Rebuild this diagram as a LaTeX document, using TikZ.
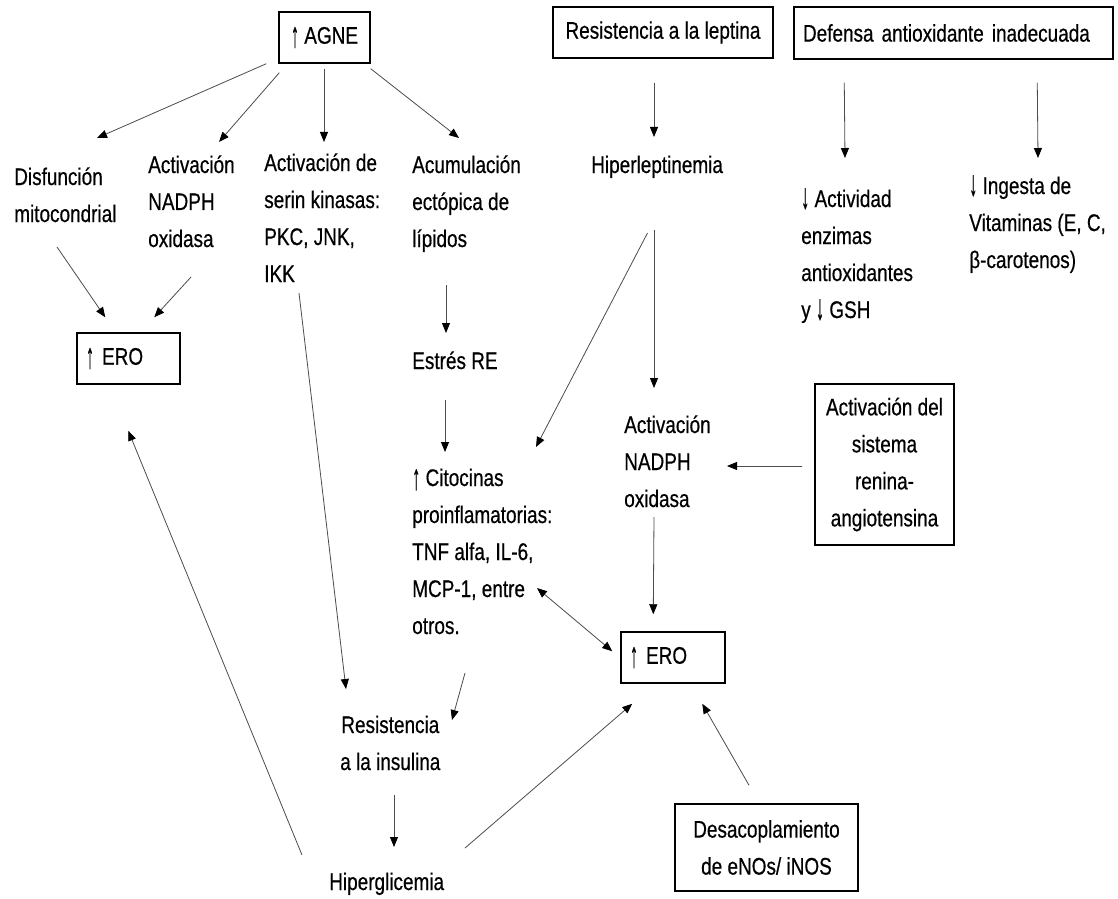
\documentclass[tikz,border=0pt]{standalone}
\usepackage{fontspec}
\usepackage{graphicx}
\setmainfont[FakeStretch=0.79,FakeBold=0.5]{Liberation Sans}
\usetikzlibrary{arrows.meta,calc}
\newcommand{\arrup}{\raisebox{-2.5pt}{\scalebox{0.85}[1.5]{↑}}}
\newcommand{\arrdn}{\raisebox{-1pt}{\scalebox{0.85}[1.5]{↓}}}
\begin{document}
\begin{tikzpicture}[x=0.75pt,y=-0.75pt,
  every node/.style={font=\fontsize{18}{27.75}\selectfont},
  txt/.style={inner sep=0pt, anchor=base west, align=left},
  box/.style={draw=black, line width=1.1pt, inner sep=0pt, align=center},
  lbox/.style={box, align=left, inner xsep=6.75pt},
  tip/.tip={Triangle[length=7.5pt,width=6pt,color=black]},
  arr/.style={draw=black!70, line width=0.6pt, -tip},
  darr/.style={draw=black!70, line width=0.6pt, tip-tip}]
\useasboundingbox (0,0) rectangle (1118,899);
\fill[white] (0,0) rectangle (1118,899);
% boxes
\node[box, minimum width=68.25pt, minimum height=38.25pt] (agne) at (324.5,37.5) {\arrup{} AGNE};
\node[box, minimum width=165pt, minimum height=38.25pt] (lept) at (663,32.5) {Resistencia a la leptina};
\node[lbox, text width=225.75pt, minimum height=39pt] (def) at (953.5,33) {Defensa antioxidante inadecuada};
\node[lbox, text width=63.75pt, minimum height=38.25pt] (ero1) at (128.5,358.5) {\arrup{} ERO};
\node[lbox, text width=64.5pt, minimum height=38.25pt] (ero2) at (673,657.5) {\arrup{} ERO};
\node[box, minimum width=104.25pt, minimum height=120.75pt] (ren) at (884.5,464.5) {Activación del\\sistema\\renina-\\angiotensina};
\node[box, minimum width=137.25pt, minimum height=65.25pt] (desac) at (766.5,847.5) {Desacoplamiento\\de eNOs/ iNOS};
% text nodes (anchored at the baseline of their last line)
\node[txt] (disf) at (14,222) {Disfunción\\mitocondrial};
\node[txt] (nadph1) at (148,247) {Activación\\NADPH\\oxidasa};
\node[txt] (serin) at (264,282) {Activación de\\serin kinasas:\\PKC, JNK,\\IKK};
\node[txt] (acum) at (412,247) {Acumulación\\ectópica de\\lípidos};
\node[txt] (hlep) at (591,173) {Hiperleptinemia};
\node[txt] (activ) at (801,318) {\arrdn{} Actividad\\enzimas\\antioxidantes\\y \arrdn{} GSH};
\node[txt] (inges) at (969,268) {\arrdn{} Ingesta de\\Vitaminas (E, C,\\β-carotenos)};
\node[txt] (estres) at (412,369) {Estrés RE};
\node[txt] (cito) at (412,634) {\arrup{} Citocinas\\proinflamatorias:\\TNF alfa, IL-6,\\MCP-1, entre\\otros.};
\node[txt] (nadph2) at (624,507) {Activación\\NADPH\\oxidasa};
\node[txt, align=center] (resins) at (340,770) {Resistencia\\a la insulina};
\node[txt] (hiperg) at (329,890) {Hiperglicemia};
% connectors
\draw[arr] ($(agne.south west)+(-12,0)$) -- ($(disf.base west)+(83,-84)$);
\draw[arr] ($(agne.south west)+(1,9)$) -- ($(nadph1.base west)+(71,-105)$);
\draw[arr] ($(agne.south)+(-0.5,5)$) -- ($(serin.base west)+(60,-140)$);
\draw[arr] ($(agne.south east)+(0,5)$) -- ($(acum.base west)+(47,-109)$);
\draw[arr] ($(disf.base west)+(43,25)$) -- ($(ero1.north west)+(29,-15)$);
\draw[arr] ($(nadph1.base west)+(43,30)$) -- ($(ero1.north west)+(78,-15)$);
\draw[arr] ($(serin.base west)+(35,11)$) -- ($(resins.base west)+(6,-81)$);
\draw[arr] ($(acum.base west)+(34,38)$) -- ($(estres.base west)+(34,-36)$);
\draw[arr] ($(estres.base west)+(33,31)$) -- ($(cito.base west)+(33,-182)$);
\draw[arr] ($(lept.south)+(-9,24)$) -- ($(hlep.base west)+(63,-36)$);
\draw[arr] ($(hlep.base west)+(56.5,60)$) -- ($(cito.base west)+(124,-187)$);
\draw[arr] ($(hlep.base west)+(63,57)$) -- ($(nadph2.base west)+(30,-119)$);
\draw[arr] ($(def.south west)+(51,23)$) -- ($(activ.base west)+(44,-160)$);
\draw[arr] ($(def.south west)+(244,23)$) -- ($(inges.base west)+(69,-110)$);
\draw[arr] ($(ren.west)+(-12,1.5)$) -- ($(nadph2.base west)+(103,-41)$);
\draw[arr] ($(nadph2.base west)+(30,10)$) -- ($(ero2.north west)+(33,-17)$);
\draw[darr] ($(cito.base west)+(125,-46)$) -- ($(ero2.north west)+(-8,20)$);
\draw[arr] ($(cito.base west)+(53,39)$) -- ($(resins.base west)+(112,-50)$);
\draw[arr] ($(resins.base west)+(54,25)$) -- ($(hiperg.base west)+(65,-43)$);
\draw[arr] ($(hiperg.base west)+(-27,-35)$) -- ($(ero1.south west)+(52,46)$);
\draw[arr] ($(hiperg.base west)+(136,-42)$) -- ($(ero2.south west)+(12,20)$);
\draw[arr] ($(desac.north)+(-17.5,-18)$) -- ($(ero2.south west)+(82,20)$);
\end{tikzpicture}
\end{document}
